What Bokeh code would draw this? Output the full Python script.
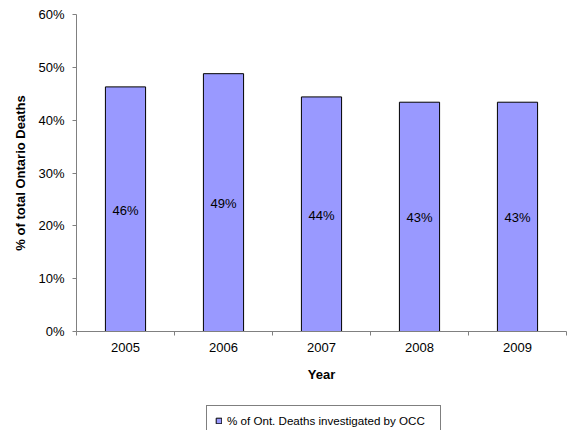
from bokeh.plotting import figure
from bokeh.layouts import column
from bokeh.models import (ColumnDataSource, Range1d, FixedTicker, NumeralTickFormatter,
                          LabelSet, Legend, LegendItem)
from bokeh.core.properties import value
from bokeh.embed import file_html
from bokeh.resources import INLINE

years = [2005, 2006, 2007, 2008, 2009]
share = [0.463, 0.488, 0.444, 0.434, 0.434]
share_labels = ["46%", "49%", "44%", "43%", "43%"]
y_ticks = [0.0, 0.1, 0.2, 0.3, 0.4, 0.5, 0.6]
series_name = "% of Ont. Deaths investigated by OCC"

FONT = "Liberation Sans"
BAR_FILL = "#9999FF"

src = ColumnDataSource(dict(
    x=years,
    top=share,
    mid=[v / 2 for v in share],
    lab=share_labels,
))

p = figure(width=567, height=405, output_backend="svg", toolbar_location=None,
           x_range=Range1d(years[0] - 0.5, years[-1] + 0.5),
           y_range=Range1d(y_ticks[0], y_ticks[-1]),
           min_border_left=76, min_border_right=1, min_border_top=14, min_border_bottom=74)
p.outline_line_color = None
p.xgrid.grid_line_color = None
p.ygrid.grid_line_color = None

p.vbar(x="x", top="top", bottom=0, width=0.41, source=src,
       fill_color=BAR_FILL, line_color="#000000", line_width=1)

labels = LabelSet(x="x", y="mid", text="lab", source=src, text_align="center",
                  text_baseline="middle", text_font=value(FONT), text_font_size="13px",
                  text_color="#000000", y_offset=-1)
p.add_layout(labels)

# x axis: labels at year centres, tick marks between categories (minor ticks)
xa = p.xaxis[0]
xa.ticker = FixedTicker(ticks=years, minor_ticks=[y - 0.5 for y in years] + [years[-1] + 0.5])
xa.major_tick_out = 0
xa.major_tick_in = 0
xa.minor_tick_out = 4
xa.minor_tick_in = 0
xa.minor_tick_line_color = "#808080"
xa.axis_line_color = "#808080"
xa.major_label_text_font = FONT
xa.major_label_text_font_size = "13px"
xa.major_label_text_color = "#000000"
xa.major_label_standoff = 7
xa.axis_label = "Year"
xa.axis_label_text_font = FONT
xa.axis_label_text_font_size = "13px"
xa.axis_label_text_font_style = "bold"
xa.axis_label_text_color = "#000000"
xa.axis_label_standoff = 12

ya = p.yaxis[0]
ya.ticker = FixedTicker(ticks=y_ticks)
ya.formatter = NumeralTickFormatter(format="0%")
ya.major_tick_out = 4
ya.major_tick_in = 0
ya.minor_tick_line_color = None
ya.major_tick_line_color = "#808080"
ya.axis_line_color = "#808080"
ya.major_label_text_font = FONT
ya.major_label_text_font_size = "13px"
ya.major_label_text_color = "#000000"
ya.major_label_standoff = 8
ya.axis_label = "% of total Ontario Deaths"
ya.axis_label_text_font = FONT
ya.axis_label_text_font_size = "13px"
ya.axis_label_text_font_style = "bold"
ya.axis_label_text_color = "#000000"
ya.axis_label_standoff = 7

# legend strip below the chart (its own small figure, bars kept out of view)
lf = figure(width=567, height=25, output_backend="svg", toolbar_location=None,
            x_range=Range1d(years[0] - 0.5, years[-1] + 0.5), y_range=Range1d(10, 11),
            x_axis_type=None, y_axis_type=None,
            min_border_left=0, min_border_right=0, min_border_top=0, min_border_bottom=0)
lf.outline_line_color = None
lf.xgrid.grid_line_color = None
lf.ygrid.grid_line_color = None
lr = lf.vbar(x="x", top="top", bottom=0, width=0.41, source=src,
             fill_color=BAR_FILL, line_color="#000000", line_width=1)

legend = Legend(items=[LegendItem(label=series_name, renderers=[lr])],
                location=(130, -6.5), orientation="vertical",
                label_text_font=FONT, label_text_font_size="11.6px",
                label_text_color="#000000", label_standoff=5,
                glyph_width=7, glyph_height=7, label_height=14, label_width=205,
                padding=8, margin=0, spacing=0,
                border_line_color="#000000", border_line_width=1,
                background_fill_color="#FFFFFF", background_fill_alpha=1)
lf.add_layout(legend, "center")

layout = column(p, lf, spacing=0)
open("out.html", "w").write(file_html(layout, INLINE))
